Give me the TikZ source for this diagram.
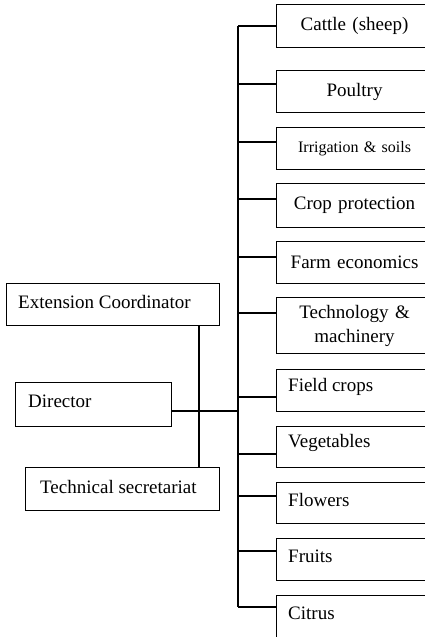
\documentclass[tikz,border=0pt]{standalone}
\usepackage{fontspec}
\setmainfont{Liberation Serif}
\usetikzlibrary{calc}
\tikzset{
  box/.style={draw, line width=1.1pt, inner sep=0pt, font=\fontsize{19}{24}\selectfont},
  rbox/.style={box, minimum width=156, minimum height=43, anchor=north west},
  rboxc/.style={rbox, align=center, text width=156},
  rboxl/.style={rbox, align=left, text width=144, inner xsep=0pt, text depth=0pt},
  lbox/.style={box, anchor=north west, inner sep=0pt},
  conn/.style={line width=1.1pt},
}
\begin{document}
\begin{tikzpicture}[x=1pt,y=-1pt]
\useasboundingbox (0,0) rectangle (425,637);
\clip (0,0) rectangle (425,637);
\fill[white] (0,0) rectangle (425,637);

% right column boxes
\node[rboxc] (cattle) at (276,4) {Cattle (sheep)};
\node[rboxc, minimum height=42] (poultry) at (276,70) {Poultry};
\node[rboxc, minimum height=42, font=\fontsize{16}{20}\selectfont] (irr) at (276,127) {Irrigation \& soils};
\node[rboxc, minimum height=44] (crop) at (276,183) {Crop protection};
\node[rboxc, minimum height=42] (farm) at (276,241) {Farm economics};
\node[rboxc, minimum height=56] (tech) at (276,297) {Technology \&\\machinery};

\node[rbox, minimum height=42] (field) at (276,369) {};
\node[anchor=west, font=\fontsize{19}{24}\selectfont, inner sep=0pt] (fieldt) at (288,387) {Field crops};
\node[rbox, minimum height=41] (veg) at (276,426) {};
\node[anchor=west, font=\fontsize{19}{24}\selectfont, inner sep=0pt] (vegt) at (288,443) {Vegetables};
\node[rbox, minimum height=41] (flow) at (276,482) {};
\node[anchor=west, font=\fontsize{19}{24}\selectfont, inner sep=0pt] (flowt) at (288,500) {Flowers};
\node[rbox, minimum height=42] (fruit) at (276,538) {};
\node[anchor=west, font=\fontsize{19}{24}\selectfont, inner sep=0pt] (fruitt) at (288,556) {Fruits};
\node[rbox, minimum height=44] (citrus) at (276,595) {};
\node[anchor=west, font=\fontsize{19}{24}\selectfont, inner sep=0pt] (citrust) at (288,613) {Citrus};

% left boxes
\node[lbox, minimum width=213, minimum height=42] (ext) at (6,283) {};
\node[anchor=west, font=\fontsize{19}{24}\selectfont, inner sep=0pt] (extt) at (18,302) {Extension Coordinator};
\node[lbox, minimum width=156, minimum height=44] (dir) at (15,382) {};
\node[anchor=west, font=\fontsize{19}{24}\selectfont, inner sep=0pt] (dirt) at (28,401) {Director};
\node[lbox, minimum width=194, minimum height=43] (tsec) at (25,467) {};
\node[anchor=west, font=\fontsize{19}{24}\selectfont, inner sep=0pt] (tsect) at (40,487) {Technical secretariat};

% junction coordinates on the trunk
\coordinate (j1) at (238,26);
\coordinate (j2) at (238,84);
\coordinate (j3) at (238,142);
\coordinate (j4) at (238,199);
\coordinate (j5) at (238,257);
\coordinate (j6) at (238,313);
\coordinate (j7) at (238,397);
\coordinate (j8) at (238,454);
\coordinate (j9) at (238,496);
\coordinate (j10) at (238,551);
\coordinate (j11) at (238,607);
\coordinate (jd) at (238,411);
\coordinate (v) at (199,0);

\draw[conn] (j1) -- (j11);
\draw[conn] (j1) -- (j1 -| cattle.west);
\draw[conn] (j2) -- (j2 -| poultry.west);
\draw[conn] (j3) -- (j3 -| irr.west);
\draw[conn] (j4) -- (j4 -| crop.west);
\draw[conn] (j5) -- (j5 -| farm.west);
\draw[conn] (j6) -- (j6 -| tech.west);
\draw[conn] (j7) -- (j7 -| field.west);
\draw[conn] (j8) -- (j8 -| veg.west);
\draw[conn] (j9) -- (j9 -| flow.west);
\draw[conn] (j10) -- (j10 -| fruit.west);
\draw[conn] (j11) -- (j11 -| citrus.west);
\draw[conn] (jd -| dir.east) -- (jd);
\draw[conn] (ext.south -| v) -- (tsec.north -| v);
\end{tikzpicture}
\end{document}
